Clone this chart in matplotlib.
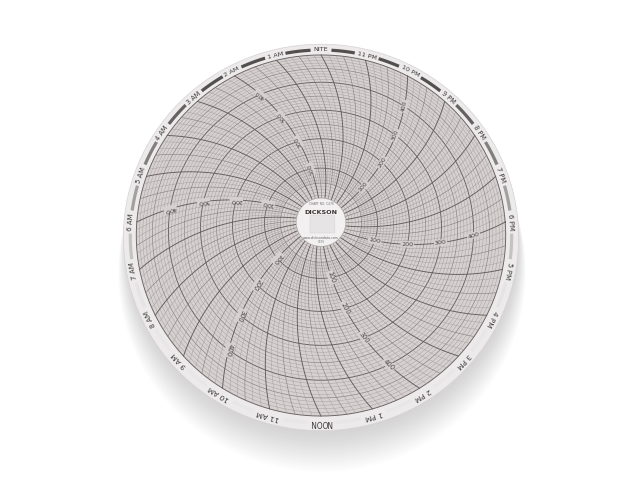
import numpy as np
import matplotlib
matplotlib.use("Agg")
import matplotlib.pyplot as plt
from matplotlib.patches import Polygon

# ---------------- data ----------------
hour_labels = ["NITE", "1 AM", "2 AM", "3 AM", "4 AM", "5 AM", "6 AM", "7 AM",
               "8 AM", "9 AM", "10 AM", "11 AM", "NOON", "1 PM", "2 PM", "3 PM",
               "4 PM", "5 PM", "6 PM", "7 PM", "8 PM", "9 PM", "10 PM", "11 PM"]
scale_min, scale_max = 0, 500
ring_step = 10
value_labels = [100, 200, 300, 400]
label_arm_hours = [2, 6, 10, 14, 18, 22]
minutes_per_line = 10
brand = "DICKSON"
chart_no = "CHART NO. C476"
website = "www.dicksondata.com"
model = "C476"

# ---------------- geometry (layout) ----------------
CX, CY = 321, 222
A, B, K = 197, 192, 0.08
R0, R1 = 0.125, 0.935
R_LAB = 0.965
R_HUB = 0.125
D = 2.0

def proj(u, v):
    w = 1 + K * v
    return CX + A * u / w, CY - B * v / w

def polar(r, phi_deg):
    p = np.radians(phi_deg)
    return proj(r * np.cos(p), r * np.sin(p))

def persp(r, phi_deg):
    return 1 + K * r * np.sin(np.radians(phi_deg))

def val_r(v):
    return R0 + (R1 - R0) * (np.asarray(v, float) - scale_min) / (scale_max - scale_min)

def arc_phi(phi_rim, r):
    return phi_rim - np.degrees(np.arcsin(R1 / D) - np.arcsin(np.asarray(r) / D))

def rim_angle(minutes):
    return 90 + 15 * minutes / 60.0

def screen_angle(p1, p2):
    return np.degrees(np.arctan2(-(p2[1] - p1[1]), p2[0] - p1[0]))

fig = plt.figure(figsize=(6.4, 4.8), dpi=100)
ax = fig.add_axes([0, 0, 1, 1])
ax.set_xlim(0, 640)
ax.set_ylim(480, 0)
ax.axis("off")
fig.patch.set_facecolor("white")

full = np.linspace(0, 360, 721)

# soft shadow (mostly below the disc)
for i in range(16):
    s = 0.985 + 0.003 * i
    x, y = polar(s, full)
    ax.add_patch(Polygon(np.c_[x + 1, y + 4 + 2.0 * i], closed=True,
                         facecolor="#7a7575", edgecolor="none", alpha=0.018, zorder=1))

# paper disc
x, y = polar(1.0, full)
ax.add_patch(Polygon(np.c_[x, y], closed=True, facecolor="#eceaeb",
                     edgecolor="#d6d2d2", lw=0.5, zorder=2))

# grid background
x, y = polar(R1, full)
ax.add_patch(Polygon(np.c_[x, y], closed=True, facecolor="#d6d0d0",
                     edgecolor="none", zorder=3))

# concentric value rings
for v in range(scale_min, scale_max + 1, ring_step):
    if v % 100 == 0:
        lw, col = 0.65, "#675f5f"
    elif v % 50 == 0:
        lw, col = 0.45, "#877f7f"
    else:
        lw, col = 0.3, "#a39b9b"
    x, y = polar(val_r(v), full)
    ax.plot(x, y, color=col, lw=lw, zorder=4)

# time arcs
for m in range(0, 24 * 60, minutes_per_line):
    if m % 60 == 0:
        lw, col, rs = 0.65, "#645c5c", R0
    elif m % 30 == 0:
        lw, col, rs = 0.42, "#877f7f", R0
    else:
        lw, col, rs = 0.3, "#a39b9b", float(val_r(50))
    r = np.linspace(rs, R1, 80)
    x, y = polar(r, arc_phi(rim_angle(m), r))
    ax.plot(x, y, color=col, lw=lw, zorder=4)

# rim band between hour labels
rad_px = R_LAB * 0.5 * (A + B)
gaps = []
for h, lab in enumerate(hour_labels):
    phi = rim_angle(h * 60)
    wpx = len(lab) * 4.1 / persp(R_LAB, phi) + 7
    gaps.append(np.degrees((wpx / 2) / rad_px))
for h in range(24):
    a0 = rim_angle(h * 60) + gaps[h]
    a1 = rim_angle((h + 1) * 60) - gaps[(h + 1) % 24]
    seg = np.linspace(a0, a1, 30)
    dark = np.clip((np.sin(np.radians(0.5 * (a0 + a1))) + 0.4) / 1.15, 0, 1)
    light = np.array([0.91, 0.90, 0.90])
    darkc = np.array([0.33, 0.31, 0.31])
    col = light + (darkc - light) * dark
    x, y = polar(R_LAB, seg)
    ax.plot(x, y, color=col, lw=2.3, solid_capstyle="butt", zorder=5)

# hour labels
for h, lab in enumerate(hour_labels):
    phi = rim_angle(h * 60)
    p1 = polar(R_LAB, phi)
    p2 = polar(R_LAB, phi - 0.5)
    rot = screen_angle(p1, p2)
    ax.text(p1[0], p1[1], lab, rotation=rot, rotation_mode="anchor",
            ha="center", va="center", fontsize=5.0 / persp(R_LAB, phi),
            color="#3e3838", family="DejaVu Sans", zorder=6)

# value labels along six arms
for h in label_arm_hours:
    for v in value_labels:
        r = float(val_r(v))
        phi = float(arc_phi(rim_angle(h * 60), r))
        p1 = polar(r, phi)
        r2 = r + 0.01
        p2 = polar(r2, float(arc_phi(rim_angle(h * 60), r2)))
        rot = screen_angle(p1, p2)
        ax.text(p1[0], p1[1], str(v), rotation=rot, rotation_mode="anchor",
                ha="center", va="center", fontsize=4.6 / persp(r, phi),
                color="#4a4444", zorder=6,
                bbox=dict(boxstyle="square,pad=0.12", facecolor="#d6d0d0",
                          edgecolor="none"))

# hub
x, y = polar(R_HUB, full)
ax.add_patch(Polygon(np.c_[x, y], closed=True, facecolor="#f2f0f0",
                     edgecolor="#cdc8c8", lw=0.5, zorder=7))
sq_u = [-0.056, 0.07, 0.07, -0.056]
sq_v = [0.036, 0.036, -0.057, -0.057]
sx, sy = proj(np.array(sq_u), np.array(sq_v))
ax.add_patch(Polygon(np.c_[sx, sy], closed=True, facecolor="#e6e4e5",
                     edgecolor="#dad7d7", lw=0.4, zorder=8))
tx, ty = proj(0.0, 0.092)
ax.text(tx, ty, chart_no, ha="center", va="center", fontsize=2.2,
        color="#777", zorder=9)
tx, ty = proj(0.0, 0.05)
ax.text(tx, ty, brand, ha="center", va="center", fontsize=4.6,
        fontweight="bold", color="#3a3434", zorder=9)
tx, ty = proj(0.0, -0.083)
ax.text(tx, ty, website, ha="center", va="center", fontsize=2.3,
        color="#666", zorder=9)
tx, ty = proj(0.0, -0.103)
ax.text(tx, ty, model, ha="center", va="center", fontsize=2.0,
        color="#777", zorder=9)

fig.savefig("out.png", dpi=100, facecolor="white")
